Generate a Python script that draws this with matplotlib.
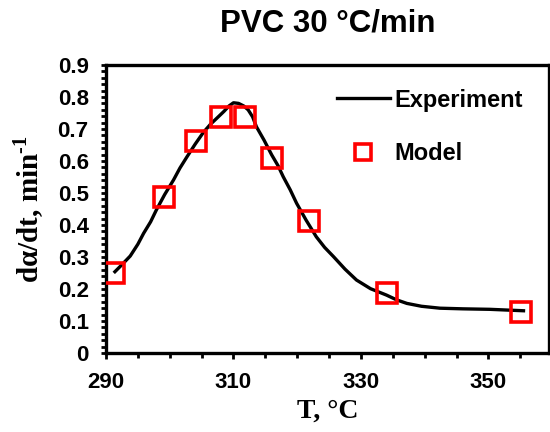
import matplotlib
matplotlib.use("Agg")
import matplotlib.pyplot as plt
from matplotlib.ticker import MultipleLocator
from matplotlib.lines import Line2D

plt.rcParams["mathtext.fontset"] = "custom"
plt.rcParams["mathtext.rm"] = "Liberation Serif:bold"
plt.rcParams["mathtext.bf"] = "Liberation Serif:bold"

# Experimental DTG curve of PVC at 30 °C/min
exp_T = [291.4, 292.5, 293.8, 295.0, 295.9, 297.0, 297.9, 299.2, 300.6, 301.6,
         302.7, 304.0, 305.3, 306.4, 307.4, 308.5, 309.3, 310.0, 310.8, 311.6,
         312.3, 313.0, 313.6, 314.8, 316.0, 317.0, 317.8, 318.9, 319.9, 321.4,
         323.0, 324.3, 325.7, 327.5, 329.3, 331.5, 334.0, 335.6, 337.2, 339.5,
         342.4, 346.0, 350.2, 355.5]
exp_rate = [0.254, 0.276, 0.303, 0.340, 0.374, 0.410, 0.447, 0.495, 0.541, 0.578,
            0.613, 0.653, 0.690, 0.715, 0.734, 0.755, 0.772, 0.782, 0.780, 0.772,
            0.760, 0.738, 0.707, 0.665, 0.619, 0.585, 0.551, 0.510, 0.468, 0.415,
            0.363, 0.330, 0.301, 0.262, 0.228, 0.201, 0.181, 0.166, 0.155, 0.146,
            0.140, 0.138, 0.1365, 0.132]

# Model predictions
model_T = [291.3, 299.1, 304.1, 308.0, 311.8, 316.0, 321.9, 334.1, 355.1]
model_rate = [0.249, 0.489, 0.6625, 0.736, 0.736, 0.610, 0.4125, 0.189, 0.127]

x_ticks = [290, 310, 330, 350]
y_ticks = [0, 0.1, 0.2, 0.3, 0.4, 0.5, 0.6, 0.7, 0.8, 0.9]

fig = plt.figure(figsize=(5.5, 4.32), dpi=100)
ax = fig.add_axes([106 / 550, 1 - 353 / 432, (549 - 106) / 550, (353 - 65) / 432])

ax.plot(exp_T, exp_rate, color="black", lw=2.4, solid_joinstyle="round", zorder=2)
ax.plot(model_T, model_rate, ls="none", marker="s", ms=14, mfc="none",
        mec="#ff0000", mew=2.6, zorder=3)

ax.set_xlim(290, 359.5)
ax.set_ylim(0, 0.9)
ax.set_xticks(x_ticks)
ax.set_yticks(y_ticks)
ax.set_yticklabels(["0" if v == 0 else f"{v:.1f}" for v in y_ticks])
ax.xaxis.set_minor_locator(MultipleLocator(5))
ax.yaxis.set_minor_locator(MultipleLocator(0.02))

for lab in ax.get_xticklabels() + ax.get_yticklabels():
    lab.set_fontfamily("Liberation Sans")
    lab.set_fontweight("bold")
    lab.set_fontsize(16)

ax.tick_params(axis="both", which="both", direction="out", length=3.5, width=2,
               color="black")
ax.tick_params(axis="x", which="major", length=4.5, pad=9)
ax.tick_params(axis="y", which="major", pad=9)
for sp in ax.spines.values():
    sp.set_linewidth(2.4)

ax.set_xlabel("T, °C", family="Liberation Serif", weight="bold", size=20, labelpad=4)
ax.set_ylabel("dα/dt, min$^{\\text{-1}}$", family="Liberation Serif",
              weight="bold", size=21, labelpad=8)

ax.set_title("PVC 30 °C/min", family="Liberation Sans", weight="bold",
             size=22.5, pad=24)

handles = [
    Line2D([], [], color="black", lw=2.4),
    Line2D([], [], ls="none", marker="s", ms=11, mfc="none", mec="#ff0000", mew=2.6),
]
leg = ax.legend(handles, ["Experiment", "Model"], loc="upper left",
                bbox_to_anchor=(0.521, 0.918), frameon=False, borderpad=0,
                borderaxespad=0, handlelength=2.25, handletextpad=0.2,
                labelspacing=1.3,
                prop=dict(family="Liberation Sans", weight="bold", size=17))

fig.savefig("out.png", dpi=100)
